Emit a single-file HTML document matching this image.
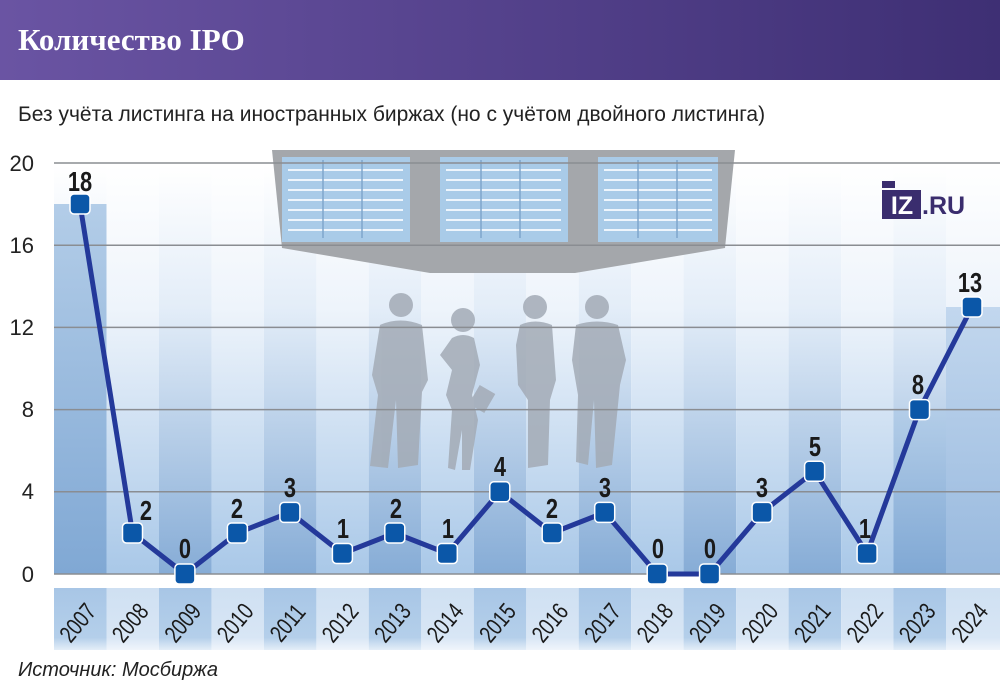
<!DOCTYPE html>
<html><head><meta charset="utf-8"><style>
body{margin:0;width:1000px;height:685px;overflow:hidden;background:#fff;font-family:"Liberation Sans",sans-serif}
</style></head><body>
<svg width="1000" height="685" viewBox="0 0 1000 685" xmlns="http://www.w3.org/2000/svg">
<defs>
<linearGradient id="hd" x1="0" y1="0" x2="1" y2="0"><stop offset="0" stop-color="#6a54a3"/><stop offset="1" stop-color="#3e2f74"/></linearGradient>
<linearGradient id="bgA" x1="0" y1="0" x2="0" y2="1"><stop offset="0" stop-color="#fff"/><stop offset="0.35" stop-color="#e3edf8"/><stop offset="1" stop-color="#86acd6"/></linearGradient>
<linearGradient id="bgB" x1="0" y1="0" x2="0" y2="1"><stop offset="0" stop-color="#fff"/><stop offset="0.35" stop-color="#eef4fb"/><stop offset="1" stop-color="#a9c8e8"/></linearGradient>
<linearGradient id="bar" x1="0" y1="0" x2="0" y2="1"><stop offset="0" stop-color="#b3cde8"/><stop offset="1" stop-color="#80a8d4"/></linearGradient>
<linearGradient id="bar2" x1="0" y1="0" x2="0" y2="1"><stop offset="0" stop-color="#c2d7ee"/><stop offset="1" stop-color="#98b9de"/></linearGradient>
<linearGradient id="bandA" x1="0" y1="0" x2="0" y2="1"><stop offset="0" stop-color="#a8c6e6"/><stop offset="0.8" stop-color="#b4cfea"/><stop offset="1" stop-color="#e4eef8"/></linearGradient>
<linearGradient id="bandB" x1="0" y1="0" x2="0" y2="1"><stop offset="0" stop-color="#cfe0f2"/><stop offset="0.8" stop-color="#d8e6f5"/><stop offset="1" stop-color="#f0f5fb"/></linearGradient>
</defs>
<rect x="0" y="0" width="1000" height="80" fill="url(#hd)"/>
<text x="18" y="50" font-family="Liberation Serif,serif" font-weight="bold" font-size="31" fill="#fff">Количество IPO</text>
<text x="18" y="121" font-size="21" fill="#222">Без учёта листинга на иностранных биржах (но с учётом двойного листинга)</text>

<g>
<rect x="54" y="165" width="52.5" height="409" fill="url(#bgA)"/>
<rect x="106.5" y="165" width="52.5" height="409" fill="url(#bgB)"/>
<rect x="159" y="165" width="52.5" height="409" fill="url(#bgA)"/>
<rect x="211.4" y="165" width="52.5" height="409" fill="url(#bgB)"/>
<rect x="263.9" y="165" width="52.5" height="409" fill="url(#bgA)"/>
<rect x="316.4" y="165" width="52.5" height="409" fill="url(#bgB)"/>
<rect x="368.8" y="165" width="52.5" height="409" fill="url(#bgA)"/>
<rect x="421.3" y="165" width="52.5" height="409" fill="url(#bgB)"/>
<rect x="473.8" y="165" width="52.5" height="409" fill="url(#bgA)"/>
<rect x="526.2" y="165" width="52.5" height="409" fill="url(#bgB)"/>
<rect x="578.7" y="165" width="52.5" height="409" fill="url(#bgA)"/>
<rect x="631.2" y="165" width="52.5" height="409" fill="url(#bgB)"/>
<rect x="683.6" y="165" width="52.5" height="409" fill="url(#bgA)"/>
<rect x="736.1" y="165" width="52.5" height="409" fill="url(#bgB)"/>
<rect x="788.6" y="165" width="52.5" height="409" fill="url(#bgA)"/>
<rect x="841.1" y="165" width="52.5" height="409" fill="url(#bgB)"/>
<rect x="893.5" y="165" width="52.5" height="409" fill="url(#bgA)"/>
<rect x="946" y="165" width="54" height="409" fill="url(#bgB)"/>
</g>
<rect x="54" y="204" width="52.5" height="370" fill="url(#bar)"/>
<rect x="893.5" y="410" width="52.5" height="164" fill="url(#bar)"/>
<rect x="946" y="307" width="54" height="267" fill="url(#bar2)"/>

<polygon points="272,150 735,150 725,248 575,273 430,273 282,248" fill="#a4a7ab"/>
<g fill="#a9cbe8">
<rect x="282" y="157" width="128" height="85"/>
<rect x="440" y="157" width="128" height="85"/>
<rect x="598" y="157" width="120" height="85"/>
</g>
<g stroke="#eef5fc" stroke-width="2">
<path d="M288 170h115M288 180h115M288 190h115M288 200h115M288 210h115M288 220h115M288 230h115"/>
<path d="M446 170h115M446 180h115M446 190h115M446 200h115M446 210h115M446 220h115M446 230h115"/>
<path d="M604 170h108M604 180h108M604 190h108M604 200h108M604 210h108M604 220h108M604 230h108"/>
</g>
<g stroke="#7fa6cc" stroke-width="1.5"><path d="M323 160v78M362 160v78M481 160v78M520 160v78M638 160v78M677 160v78"/></g>

<g fill="#a3abb6" opacity="0.85">
<circle cx="401" cy="305" r="12"/><path d="M380 325 Q400 316 422 325 L428 380 L422 392 L418 465 L398 468 L396 400 L388 468 L370 466 L378 395 L372 375Z"/>
<circle cx="463" cy="320" r="12"/><path d="M452 338 Q463 332 474 338 L480 365 L472 395 L478 420 L470 470 L462 470 L462 430 L455 470 L448 468 L452 410 L446 395 L452 370 L440 355Z"/><rect x="473" y="388" width="18" height="22" transform="rotate(30 482 399)"/>
<circle cx="535" cy="307" r="12"/><path d="M520 325 Q535 318 552 325 L556 380 L550 400 L548 465 L528 468 L528 400 L518 385 L516 345Z"/>
<circle cx="597" cy="307" r="12"/><path d="M576 325 Q597 318 618 325 L626 360 L620 385 L612 465 L596 468 L594 400 L588 465 L576 462 L578 395 L572 360Z"/>
</g>

<g stroke="#8a8d92" stroke-width="1.5">
<path d="M54 163H1000M54 245.2H1000M54 327.4H1000M54 409.6H1000M54 491.8H1000M54 574H1000"/>
</g>
<g font-size="22" fill="#222" text-anchor="end">
<text x="34" y="171">20</text><text x="34" y="253">16</text><text x="34" y="335">12</text><text x="34" y="417">8</text><text x="34" y="499">4</text><text x="34" y="582">0</text>
</g>

<rect x="882" y="181" width="13" height="7" fill="#3a2d6e"/>
<rect x="882" y="190" width="39" height="29" fill="#3a2d6e"/>
<text x="902" y="214" font-size="25" font-weight="bold" fill="#fff" text-anchor="middle">IZ</text>
<text x="922" y="214" font-size="25" font-weight="bold" fill="#3a2d6e">.RU</text>

<polyline fill="none" stroke="#24399a" stroke-width="5" stroke-linejoin="round" points="80,204 132.5,533 184.9,574 237.4,533 289.9,512.4 342.4,553.5 394.8,533 447.3,553.5 499.8,491.8 552.2,533 604.7,512.4 657.2,574 709.6,574 762.1,512.4 814.6,471.3 867.1,553.5 919.5,409.6 972,307"/>
<g fill="#0b57a8" stroke="#fff" stroke-width="1.5">
<rect x="70" y="194" width="20" height="20" rx="4"/>
<rect x="122.5" y="523" width="20" height="20" rx="4"/>
<rect x="174.9" y="564" width="20" height="20" rx="4"/>
<rect x="227.4" y="523" width="20" height="20" rx="4"/>
<rect x="279.9" y="502.4" width="20" height="20" rx="4"/>
<rect x="332.4" y="543.5" width="20" height="20" rx="4"/>
<rect x="384.8" y="523" width="20" height="20" rx="4"/>
<rect x="437.3" y="543.5" width="20" height="20" rx="4"/>
<rect x="489.8" y="481.8" width="20" height="20" rx="4"/>
<rect x="542.2" y="523" width="20" height="20" rx="4"/>
<rect x="594.7" y="502.4" width="20" height="20" rx="4"/>
<rect x="647.2" y="564" width="20" height="20" rx="4"/>
<rect x="699.6" y="564" width="20" height="20" rx="4"/>
<rect x="752.1" y="502.4" width="20" height="20" rx="4"/>
<rect x="804.6" y="461.3" width="20" height="20" rx="4"/>
<rect x="857.1" y="543.5" width="20" height="20" rx="4"/>
<rect x="909.5" y="399.6" width="20" height="20" rx="4"/>
<rect x="962" y="297" width="20" height="20" rx="4"/>
</g>
<g font-weight="bold" font-size="28" fill="#1a1a1a" text-anchor="middle">
<text transform="translate(80,191) scale(0.78,1)">18</text><text transform="translate(146,520) scale(0.78,1)">2</text><text transform="translate(185,558) scale(0.78,1)">0</text><text transform="translate(237,518) scale(0.78,1)">2</text><text transform="translate(290,497) scale(0.78,1)">3</text><text transform="translate(343,538) scale(0.78,1)">1</text><text transform="translate(396,518) scale(0.78,1)">2</text><text transform="translate(448,538) scale(0.78,1)">1</text><text transform="translate(500,476) scale(0.78,1)">4</text><text transform="translate(552,518) scale(0.78,1)">2</text><text transform="translate(605,497) scale(0.78,1)">3</text><text transform="translate(658,558) scale(0.78,1)">0</text><text transform="translate(710,558) scale(0.78,1)">0</text><text transform="translate(762,497) scale(0.78,1)">3</text><text transform="translate(815,456) scale(0.78,1)">5</text><text transform="translate(865,538) scale(0.78,1)">1</text><text transform="translate(918,394) scale(0.78,1)">8</text><text transform="translate(970,292) scale(0.78,1)">13</text>
</g>

<g>
<rect x="54" y="588" width="52.5" height="62" fill="url(#bandA)"/><rect x="106.5" y="588" width="52.5" height="62" fill="url(#bandB)"/>
<rect x="159" y="588" width="52.5" height="62" fill="url(#bandA)"/><rect x="211.4" y="588" width="52.5" height="62" fill="url(#bandB)"/>
<rect x="263.9" y="588" width="52.5" height="62" fill="url(#bandA)"/><rect x="316.4" y="588" width="52.5" height="62" fill="url(#bandB)"/>
<rect x="368.8" y="588" width="52.5" height="62" fill="url(#bandA)"/><rect x="421.3" y="588" width="52.5" height="62" fill="url(#bandB)"/>
<rect x="473.8" y="588" width="52.5" height="62" fill="url(#bandA)"/><rect x="526.2" y="588" width="52.5" height="62" fill="url(#bandB)"/>
<rect x="578.7" y="588" width="52.5" height="62" fill="url(#bandA)"/><rect x="631.2" y="588" width="52.5" height="62" fill="url(#bandB)"/>
<rect x="683.6" y="588" width="52.5" height="62" fill="url(#bandA)"/><rect x="736.1" y="588" width="52.5" height="62" fill="url(#bandB)"/>
<rect x="788.6" y="588" width="52.5" height="62" fill="url(#bandA)"/><rect x="841.1" y="588" width="52.5" height="62" fill="url(#bandB)"/>
<rect x="893.5" y="588" width="52.5" height="62" fill="url(#bandA)"/><rect x="946" y="588" width="54" height="62" fill="url(#bandB)"/>
</g>
<g font-size="24" fill="#1a1a1a" text-anchor="middle">
<text transform="translate(84,628) rotate(-50) scale(0.78,1)">2007</text>
<text transform="translate(136.5,628) rotate(-50) scale(0.78,1)">2008</text>
<text transform="translate(189,628) rotate(-50) scale(0.78,1)">2009</text>
<text transform="translate(241.4,628) rotate(-50) scale(0.78,1)">2010</text>
<text transform="translate(293.9,628) rotate(-50) scale(0.78,1)">2011</text>
<text transform="translate(346.4,628) rotate(-50) scale(0.78,1)">2012</text>
<text transform="translate(398.8,628) rotate(-50) scale(0.78,1)">2013</text>
<text transform="translate(451.3,628) rotate(-50) scale(0.78,1)">2014</text>
<text transform="translate(503.8,628) rotate(-50) scale(0.78,1)">2015</text>
<text transform="translate(556.2,628) rotate(-50) scale(0.78,1)">2016</text>
<text transform="translate(608.7,628) rotate(-50) scale(0.78,1)">2017</text>
<text transform="translate(661.2,628) rotate(-50) scale(0.78,1)">2018</text>
<text transform="translate(713.6,628) rotate(-50) scale(0.78,1)">2019</text>
<text transform="translate(766.1,628) rotate(-50) scale(0.78,1)">2020</text>
<text transform="translate(818.6,628) rotate(-50) scale(0.78,1)">2021</text>
<text transform="translate(871.1,628) rotate(-50) scale(0.78,1)">2022</text>
<text transform="translate(923.5,628) rotate(-50) scale(0.78,1)">2023</text>
<text transform="translate(976,628) rotate(-50) scale(0.78,1)">2024</text>
</g>
<text x="18" y="676" font-size="20" font-style="italic" fill="#222">Источник: Мосбиржа</text>
</svg>
</body></html>
